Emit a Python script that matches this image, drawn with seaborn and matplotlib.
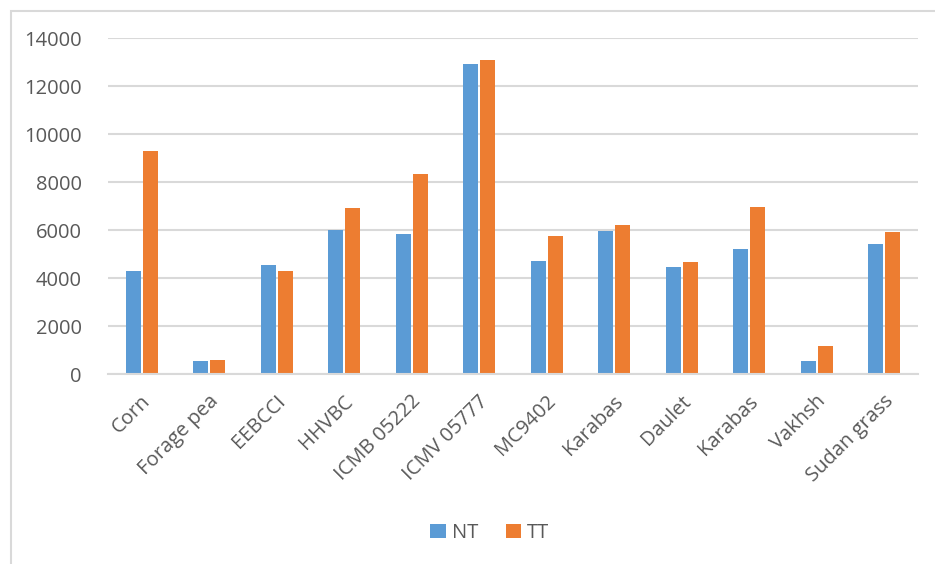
import matplotlib
matplotlib.use("Agg")
import matplotlib.pyplot as plt
from matplotlib.patches import Rectangle
from matplotlib.transforms import ScaledTranslation
import seaborn as sns
import pandas as pd

# Yield by crop / variety under two treatments
crops = ["Corn", "Forage pea", "EEBCCI", "HHVBC", "ICMB 05222", "ICMV 05777",
         "MC9402", "Karabas", "Daulet", "Karabas", "Vakhsh", "Sudan grass"]
nt_values = [4300, 550, 4550, 6000, 5850, 12900, 4700, 5950, 4450, 5200, 550, 5400]
tt_values = [9300, 600, 4300, 6900, 8350, 13100, 5750, 6200, 4650, 6950, 1150, 5900]
series_names = ["NT", "TT"]
y_ticks = [0, 2000, 4000, 6000, 8000, 10000, 12000, 14000]

blue = "#5B9BD5"
orange = "#ED7D31"
text_gray = "#595959"
grid_gray = "#D9D9D9"

# long-format table; position index keeps the two "Karabas" entries apart
df = pd.DataFrame({
    "pos": list(range(len(crops))) * 2,
    "value": nt_values + tt_values,
    "treatment": [series_names[0]] * len(crops) + [series_names[1]] * len(crops),
})

sns.set_theme(style="white")
plt.rcParams["font.family"] = ["Open Sans", "DejaVu Sans"]

fig = plt.figure(figsize=(9.35, 5.64), dpi=100)
ax = fig.add_axes([108 / 935, 1 - 374 / 564, 810 / 935, (374 - 38) / 564])

sns.barplot(data=df, x="pos", y="value", hue="treatment",
            palette=[blue, orange], width=0.5, gap=0.12, saturation=1,
            linewidth=0, ax=ax)

ax.set_ylim(0, 14000)
ax.set_xlim(-0.5, len(crops) - 0.5)
ax.set_yticks(y_ticks)
ax.set_yticklabels([str(v) for v in y_ticks])
ax.set_xticks(range(len(crops)))
ax.set_xticklabels(crops, rotation=45, ha="right", va="center",
                   rotation_mode="anchor")
ax.set_xlabel("")
ax.set_ylabel("")

ax.tick_params(axis="y", length=0, pad=19, labelsize=14.5, labelcolor=text_gray)
ax.tick_params(axis="x", length=0, pad=14, labelsize=14.5, labelcolor=text_gray)

# nudge the slanted category labels right and down a little
shift = ScaledTranslation(6 / 100, -5 / 100, fig.dpi_scale_trans)
for lbl in ax.get_xticklabels():
    lbl.set_transform(lbl.get_transform() + shift)

ax.yaxis.grid(True, color=grid_gray, linewidth=1.5)
ax.set_axisbelow(True)
for side in ["left", "right", "top"]:
    ax.spines[side].set_visible(False)
ax.spines["bottom"].set_color(grid_gray)
ax.spines["bottom"].set_linewidth(1.5)

handles, labels = ax.get_legend_handles_labels()
ax.get_legend().remove()
leg = fig.legend(handles, labels, loc="center", ncol=2, frameon=False,
                 bbox_to_anchor=(490 / 935, 1 - 533 / 564),
                 handlelength=0.75, handleheight=0.75, handletextpad=0.3,
                 columnspacing=1.4, fontsize=14.5)
for t in leg.get_texts():
    t.set_color(text_gray)

# chart-area frame
fig.patches.append(Rectangle((11 / 935, -0.1), 1.1, 0.1 + 1 - 11 / 564,
                             transform=fig.transFigure, fill=False,
                             edgecolor=grid_gray, linewidth=1.5))

fig.savefig("out.png", dpi=100)
